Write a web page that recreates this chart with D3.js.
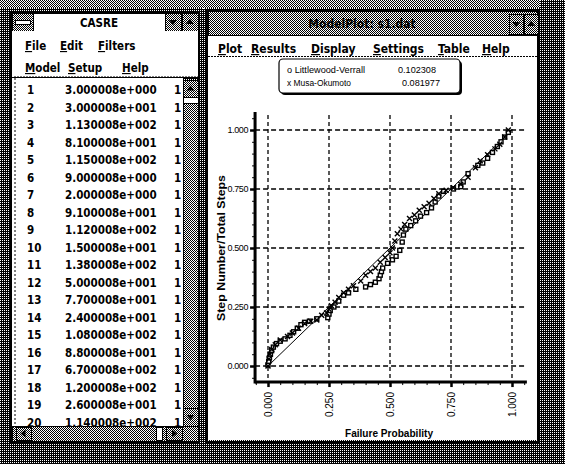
<!DOCTYPE html>
<html lang="en">
<head>
<meta charset="UTF-8">
<title>CASRE - Model Plot</title>
<script src="https://d3js.org/d3.v7.min.js"></script>
<style>
    body { margin: 0; padding: 0; background: #fff; }
    svg { display: block; }
    .sys { font-family: "DejaVu Sans Condensed", "DejaVu Sans", sans-serif; font-weight: bold; fill: #000; }
    .chart text { font-family: "Liberation Sans", Arial, sans-serif; fill: #000; }
</style>
</head>
<body>
<svg id="screen" width="565" height="464"></svg>
<script>
    // data table in the CASRE window
    const rowIds = [1, 2, 3, 4, 5, 6, 7, 8, 9, 10, 11, 12, 13, 14, 15, 16, 17, 18, 19, 20];
    const failureTimes = ["3.000008e+000", "3.000008e+001", "1.130008e+002", "8.100008e+001", "1.150008e+002",
        "9.000008e+000", "2.000008e+000", "9.100008e+001", "1.120008e+002", "1.500008e+001",
        "1.380008e+002", "5.000008e+001", "7.700008e+001", "2.400008e+001", "1.080008e+002",
        "8.800008e+001", "6.700008e+002", "1.200008e+002", "2.600008e+001", "1.140008e+002"];
    const severity = [1, 1, 1, 1, 1, 1, 1, 1, 1, 1, 1, 1, 1, 1, 1, 1, 1, 1, 1, 1];

    const leftMenu1 = ["File", "Edit", "Filters"];
    const leftMenu2 = ["Model", "Setup", "Help"];
    const rightMenu = ["Plot", "Results", "Display", "Settings", "Table", "Help"];

    // u-plot
    const legendNames = ["Littlewood-Verrall", "Musa-Okumoto"];
    const legendValues = ["0.102308", "0.081977"];
    const tickValues = [0, 0.25, 0.5, 0.75, 1];

    // Littlewood-Verrall (squares): [failure probability, step number / total steps]
    const lvPoints = [
        [0.000, 0.005], [0.003, 0.02], [0.006, 0.035], [0.010, 0.05], [0.015, 0.065], [0.022, 0.08],
        [0.035, 0.095], [0.050, 0.105], [0.070, 0.115], [0.090, 0.13], [0.105, 0.145], [0.120, 0.16],
        [0.135, 0.175], [0.150, 0.185], [0.170, 0.19], [0.200, 0.20], [0.245, 0.205], [0.250, 0.22],
        [0.255, 0.235], [0.270, 0.25], [0.290, 0.275], [0.310, 0.30], [0.330, 0.31], [0.360, 0.325],
        [0.400, 0.335], [0.420, 0.345], [0.440, 0.355], [0.455, 0.37], [0.460, 0.385], [0.465, 0.40],
        [0.470, 0.415], [0.490, 0.435], [0.510, 0.45], [0.525, 0.465], [0.540, 0.49], [0.550, 0.525],
        [0.555, 0.555], [0.565, 0.58], [0.585, 0.595], [0.605, 0.615], [0.625, 0.635], [0.650, 0.65],
        [0.670, 0.67], [0.685, 0.695], [0.700, 0.72], [0.720, 0.74], [0.760, 0.75], [0.790, 0.76],
        [0.800, 0.78], [0.820, 0.815], [0.860, 0.85], [0.880, 0.86], [0.900, 0.88], [0.920, 0.905],
        [0.940, 0.93], [0.955, 0.95], [0.970, 0.97], [0.985, 0.99]
    ];

    // Musa-Okumoto (crosses)
    const moPoints = [
        [0.000, 0.0], [0.004, 0.03], [0.008, 0.05], [0.015, 0.07], [0.030, 0.09], [0.050, 0.11],
        [0.080, 0.125], [0.100, 0.14], [0.125, 0.16], [0.150, 0.18], [0.175, 0.19], [0.200, 0.195],
        [0.220, 0.215], [0.240, 0.225], [0.250, 0.24], [0.260, 0.255], [0.275, 0.27], [0.290, 0.29],
        [0.310, 0.31], [0.330, 0.325], [0.350, 0.34], [0.380, 0.36], [0.400, 0.385], [0.420, 0.40],
        [0.440, 0.415], [0.460, 0.44], [0.480, 0.46], [0.500, 0.48], [0.510, 0.50], [0.520, 0.53],
        [0.530, 0.56], [0.545, 0.58], [0.560, 0.60], [0.580, 0.625], [0.600, 0.64], [0.620, 0.66],
        [0.640, 0.675], [0.660, 0.69], [0.680, 0.71], [0.700, 0.73], [0.730, 0.745], [0.760, 0.755],
        [0.790, 0.77], [0.820, 0.80], [0.850, 0.84], [0.870, 0.87], [0.900, 0.895], [0.930, 0.92],
        [0.950, 0.94], [0.970, 0.97], [0.985, 1.0]
    ];

    const svg = d3.select("#screen");
    const defs = svg.append("defs");

    // dither patterns (50% and 75% black)
    const p50 = defs.append("pattern").attr("id", "d50").attr("width", 2).attr("height", 2)
        .attr("patternUnits", "userSpaceOnUse");
    p50.append("rect").attr("width", 2).attr("height", 2).attr("fill", "#fff");
    p50.append("rect").attr("width", 1).attr("height", 1).attr("fill", "#000");
    p50.append("rect").attr("x", 1).attr("y", 1).attr("width", 1).attr("height", 1).attr("fill", "#000");

    const p75 = defs.append("pattern").attr("id", "d75").attr("width", 2).attr("height", 2)
        .attr("patternUnits", "userSpaceOnUse");
    p75.append("rect").attr("width", 2).attr("height", 2).attr("fill", "#000");
    p75.append("rect").attr("width", 1).attr("height", 1).attr("fill", "#fff");

    // desktop
    svg.append("rect").attr("width", 565).attr("height", 464).attr("fill", "url(#d75)");
    svg.append("rect").attr("x", 0).attr("y", 0).attr("width", 540).attr("height", 10).attr("fill", "url(#d50)");

    const rect = (g, x0, y0, w, h, fill, stroke) => g.append("rect")
        .attr("x", x0).attr("y", y0).attr("width", w).attr("height", h)
        .attr("fill", fill).attr("stroke", stroke || "none").attr("shape-rendering", "crispEdges");

    const arrowBox = (g, x0, y0, w, h, dir) => {
        rect(g, x0, y0, w, h, "url(#d50)", "#000");
        const cx = x0 + w / 2, cy = y0 + h / 2;
        const pts = {
            up: [[cx - 4, cy + 2], [cx + 4, cy + 2], [cx, cy - 3]],
            down: [[cx - 4, cy - 2], [cx + 4, cy - 2], [cx, cy + 3]],
            left: [[cx + 2, cy - 4], [cx + 2, cy + 4], [cx - 3, cy]],
            right: [[cx - 2, cy - 4], [cx - 2, cy + 4], [cx + 3, cy]]
        }[dir];
        g.append("polygon").attr("points", pts.map(p => p.join(",")).join(" ")).attr("fill", "#000");
    };

    const menuText = (g, x0, y0, label, size) => {
        const t = g.append("text").attr("class", "sys").attr("x", x0).attr("y", y0).style("font-size", size + "px");
        t.append("tspan").attr("text-decoration", "underline").text(label[0]);
        t.append("tspan").text(label.slice(1));
    };

    // ---------- left window (CASRE) ----------
    const lw = svg.append("g");
    rect(lw, 0, 8, 203, 436, "url(#d75)");
    rect(lw, 11, 12, 188, 430, "none", "#000").attr("stroke-width", 2);
    // title bar
    rect(lw, 12, 13, 186, 18, "#fff", "#000");
    rect(lw, 12, 13, 21, 18, "url(#d50)", "#000");
    rect(lw, 15, 20, 15, 4, "#fff", "#000");
    arrowBox(lw, 165, 13, 16, 18, "down");
    arrowBox(lw, 182, 13, 16, 18, "up");
    lw.append("text").attr("class", "sys").attr("x", 99).attr("y", 27)
        .attr("text-anchor", "middle").style("font-size", "11.5px").text("CASRE");
    // menus
    rect(lw, 12, 31, 186, 46, "#fff");
    const lm1x = [25, 60, 98], lm2x = [25, 68, 122];
    leftMenu1.forEach((m, i) => menuText(lw, lm1x[i], 50, m, 11.5));
    leftMenu2.forEach((m, i) => menuText(lw, lm2x[i], 72, m, 11.5));
    lw.append("line").attr("x1", 14).attr("x2", 198).attr("y1", 77).attr("y2", 77)
        .attr("stroke", "#000").attr("stroke-dasharray", "2,1");
    // list
    rect(lw, 12, 78, 171, 348, "#fff");
    lw.append("line").attr("x1", 15).attr("x2", 15).attr("y1", 78).attr("y2", 426)
        .attr("stroke", "#000").attr("stroke-dasharray", "2,2");
    defs.append("clipPath").attr("id", "listClip").append("rect")
        .attr("x", 12).attr("y", 78).attr("width", 171).attr("height", 348);
    const list = lw.append("g").attr("clip-path", "url(#listClip)");
    const rowY = d3.scaleLinear().domain([1, 20]).range([94, 426.5]);
    const rows = list.selectAll("g.row").data(rowIds).enter().append("g").attr("class", "row")
        .attr("transform", d => `translate(0,${rowY(d)})`);
    rows.append("text").attr("class", "sys").attr("x", 27).style("font-size", "11.5px").text(d => d);
    rows.append("text").attr("class", "sys").attr("x", 65).style("font-size", "11.5px")
        .text((d, i) => failureTimes[i]);
    rows.append("text").attr("class", "sys").attr("x", 174).style("font-size", "11.5px")
        .text((d, i) => severity[i]);
    // scrollbars
    rect(lw, 183, 78, 15, 348, "url(#d50)", "#000");
    arrowBox(lw, 183, 80, 15, 17, "up");
    rect(lw, 183, 97, 15, 6, "#fff", "#000");
    arrowBox(lw, 183, 408, 15, 18, "down");
    rect(lw, 12, 426, 186, 15, "url(#d50)", "#000");
    arrowBox(lw, 16, 427, 15, 13, "left");
    rect(lw, 156, 427, 6, 13, "#fff", "#000");
    arrowBox(lw, 166, 427, 16, 13, "right");

    // ---------- right window (model plot) ----------
    const rw = svg.append("g");
    rect(rw, 204, 8, 336, 436, "url(#d75)");
    rect(rw, 207, 10, 331, 432, "none", "#000").attr("stroke-width", 2);
    rect(rw, 208, 11, 329, 24, "url(#d50)", "#000");
    arrowBox(rw, 509, 14, 14, 20, "down");
    arrowBox(rw, 524, 14, 14, 20, "up");
    rw.append("text").attr("class", "sys").attr("x", 362).attr("y", 28)
        .attr("text-anchor", "middle").style("font-size", "12px").text("ModelPlot: s1.dat");
    rect(rw, 208, 36, 329, 404, "#fff");
    rw.append("line").attr("x1", 208).attr("x2", 537).attr("y1", 56.5).attr("y2", 56.5)
        .attr("stroke", "#000").attr("stroke-dasharray", "2,1");
    const rmx = [218, 251, 311, 373, 438, 482];
    rightMenu.forEach((m, i) => menuText(rw, rmx[i], 53, m, 12));

    // ---------- chart ----------
    const chart = svg.append("g").attr("class", "chart");
    const x = d3.scaleLinear().domain([0, 1]).range([268, 512]);
    const y = d3.scaleLinear().domain([0, 1]).range([366, 130]);
    const xLo = -0.053, xHi = 1.061, yLo = -0.068, yHi = 1.076;

    // grid
    chart.append("g").selectAll("line").data(tickValues).enter().append("line")
        .attr("x1", d => x(d)).attr("x2", d => x(d)).attr("y1", y(yHi) + 3).attr("y2", y(yLo))
        .attr("stroke", "#000").attr("stroke-width", 1.3).attr("stroke-dasharray", "4,3");
    chart.append("g").selectAll("line").data(tickValues).enter().append("line")
        .attr("x1", x(xLo)).attr("x2", x(xHi) - 2).attr("y1", d => y(d)).attr("y2", d => y(d))
        .attr("stroke", "#000").attr("stroke-width", 1.3).attr("stroke-dasharray", "5,3");

    // minor ticks
    const minor = d3.range(-0.05, 1.051, 0.05).filter(v => Math.abs(v * 4 - Math.round(v * 4)) > 1e-6);
    chart.append("g").attr("transform", `translate(${x(xLo)},0)`)
        .call(d3.axisLeft(y).tickValues(minor).tickSize(3).tickFormat(""))
        .call(g => g.select(".domain").remove());
    chart.append("g").attr("transform", `translate(0,${y(yLo)})`)
        .call(d3.axisBottom(x).tickValues(minor).tickSize(3).tickFormat(""))
        .call(g => g.select(".domain").remove());

    // major ticks + labels
    const yAxis = chart.append("g").attr("transform", `translate(${x(xLo)},0)`)
        .call(d3.axisLeft(y).tickValues(tickValues).tickSize(5).tickPadding(2).tickFormat(d3.format(".3f")));
    yAxis.select(".domain").remove();
    yAxis.selectAll("line").attr("stroke-width", 2.5);
    yAxis.selectAll("text").style("font-size", "9px").attr("letter-spacing", "-0.4");

    const xAxis = chart.append("g").attr("transform", `translate(0,${y(yLo)})`)
        .call(d3.axisBottom(x).tickValues(tickValues).tickSize(5).tickFormat(d3.format(".3f")));
    xAxis.select(".domain").remove();
    xAxis.selectAll("line").attr("stroke-width", 2.5);
    xAxis.selectAll("text").style("font-size", "10px")
        .attr("transform", "rotate(-90)").attr("text-anchor", "end")
        .attr("x", -10).attr("y", 0).attr("dy", "0.35em");

    // axis frame
    chart.append("line").attr("x1", x(xLo)).attr("x2", x(xLo)).attr("y1", y(yHi)).attr("y2", y(yLo) + 1.5)
        .attr("stroke", "#000").attr("stroke-width", 3);
    chart.append("line").attr("x1", x(xLo)).attr("x2", x(xHi)).attr("y1", y(yLo)).attr("y2", y(yLo))
        .attr("stroke", "#000").attr("stroke-width", 3);

    // axis titles
    chart.append("text").attr("x", 389).attr("y", 437).attr("text-anchor", "middle")
        .style("font-size", "10px").style("font-weight", "bold")
        .attr("textLength", 88).attr("lengthAdjust", "spacingAndGlyphs").text("Failure Probability");
    chart.append("text").attr("transform", `translate(225,${y(0.5)}) rotate(-90)`).attr("text-anchor", "middle")
        .style("font-size", "11px").style("font-weight", "bold")
        .attr("textLength", 146).attr("lengthAdjust", "spacingAndGlyphs").text("Step Number/Total Steps");

    // perfect-fit diagonal
    chart.append("line").attr("x1", x(0)).attr("y1", y(0)).attr("x2", x(1)).attr("y2", y(1))
        .attr("stroke", "#000").attr("stroke-width", 1);

    // Littlewood-Verrall squares
    chart.append("g").selectAll("rect").data(lvPoints).enter().append("rect")
        .attr("x", d => x(d[0]) - 2).attr("y", d => y(d[1]) - 2).attr("width", 4).attr("height", 4)
        .attr("fill", "#fff").attr("stroke", "#000").attr("stroke-width", 1.4);

    // Musa-Okumoto crosses
    chart.append("g").selectAll("path").data(moPoints).enter().append("path")
        .attr("d", d => {
            const cx = x(d[0]), cy = y(d[1]);
            return `M${cx - 2.5},${cy - 2.5}L${cx + 2.5},${cy + 2.5}M${cx - 2.5},${cy + 2.5}L${cx + 2.5},${cy - 2.5}`;
        })
        .attr("stroke", "#000").attr("stroke-width", 1.4);

    // legend
    const lg = chart.append("g");
    lg.append("rect").attr("x", 281).attr("y", 61).attr("width", 181).attr("height", 34).attr("rx", 4)
        .attr("fill", "#000");
    lg.append("rect").attr("x", 279).attr("y", 59).attr("width", 181).attr("height", 34).attr("rx", 4)
        .attr("fill", "#fff").attr("stroke", "#000").attr("stroke-width", 1.2);
    const lgItems = lg.selectAll("g.item").data(legendNames).enter().append("g").attr("class", "item")
        .attr("transform", (d, i) => `translate(0,${73 + i * 12.5})`);
    lgItems.append("text").attr("x", 287).style("font-size", "8.5px")
        .attr("textLength", (d, i) => i === 0 ? 78 : 64).attr("lengthAdjust", "spacingAndGlyphs")
        .text((d, i) => (i === 0 ? "o  " : "x  ") + d);
    lgItems.append("text").attr("x", (d, i) => i === 0 ? 398 : 402).style("font-size", "8.5px")
        .attr("textLength", 38).attr("lengthAdjust", "spacingAndGlyphs")
        .text((d, i) => legendValues[i]);
</script>
</body>
</html>
